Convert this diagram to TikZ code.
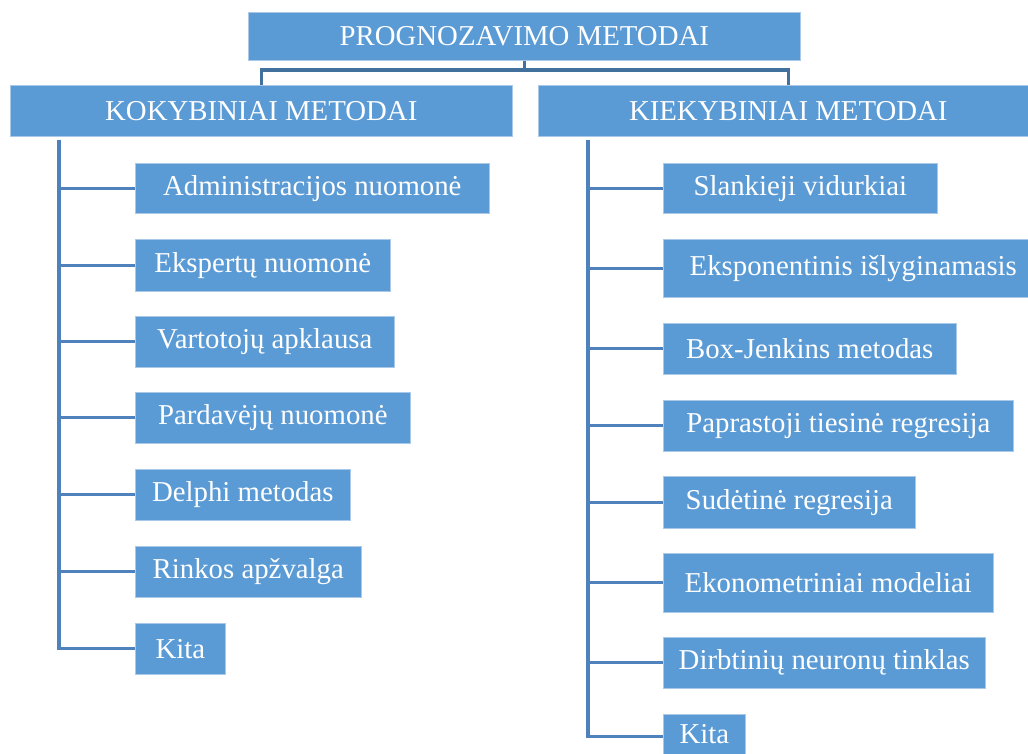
\documentclass[tikz,border=0pt]{standalone}
\usepackage{fontspec}
\setmainfont{Liberation Serif}
\definecolor{boxblue}{RGB}{91,155,213}
\definecolor{boxedge}{RGB}{170,200,232}
\definecolor{linkblue}{RGB}{79,129,189}
\definecolor{toplink}{RGB}{65,113,156}
\begin{document}
\begin{tikzpicture}[x=1pt,y=1pt,
  box/.style={rectangle, fill=boxblue, draw=boxedge, line width=0.6pt, inner sep=0pt,
    anchor=north west, text=white, font=\fontsize{28.8}{32}\selectfont, align=center},
  link/.style={draw=linkblue, line width=3.2pt},
  tlink/.style={draw=toplink, line width=3.2pt}]
\useasboundingbox (0,0) rectangle (1028,-753);
% headers
\node[box, minimum width=552, minimum height=48] (top) at (248,-12) {PROGNOZAVIMO METODAI};
\node[box, minimum width=502, minimum height=51] (kok) at (10,-85) {KOKYBINIAI METODAI};
\node[box, minimum width=500, minimum height=51] (kiek) at (538,-85) {KIEKYBINIAI METODAI};
% left children
\node[box, minimum width=354, minimum height=50] (k1) at (135,-163) {Administracijos nuomonė};
\node[box, minimum width=255, minimum height=52] (k2) at (135,-239) {Ekspertų nuomonė};
\node[box, minimum width=259, minimum height=51] (k3) at (135,-316) {Vartotojų apklausa};
\node[box, minimum width=275, minimum height=51] (k4) at (135,-392) {Pardavėjų nuomonė};
\node[box, minimum width=215, minimum height=51] (k5) at (135,-469) {Delphi metodas};
\node[box, minimum width=226, minimum height=51] (k6) at (135,-546) {Rinkos apžvalga};
\node[box, minimum width=90, minimum height=51] (k7) at (135,-623) {Kita};
% right children
\node[box, minimum width=274, minimum height=50] (r1) at (663,-163) {Slankieji vidurkiai};
\node[box, minimum width=380, minimum height=58] (r2) at (663,-239) {Eksponentinis išlyginamasis};
\node[box, minimum width=293, minimum height=51] (r3) at (663,-323) {Box-Jenkins metodas};
\node[box, minimum width=350, minimum height=51] (r4) at (663,-400) {Paprastoji tiesinė regresija};
\node[box, minimum width=252, minimum height=52] (r5) at (663,-476) {Sudėtinė regresija};
\node[box, minimum width=330, minimum height=59] (r6) at (663,-553) {Ekonometriniai modeliai};
\node[box, minimum width=322, minimum height=51] (r7) at (663,-637) {Dirbtinių neuronų tinklas};
\node[box, minimum width=82, minimum height=40] (r8) at (663,-714) {Kita};
% top connector
\coordinate (bar) at ([yshift=-10]top.south);
\draw[tlink] (top.south) -- (bar);
\draw[tlink] (kok.north) -- ++(0,15) -| (kiek.north);
% trunks
\coordinate (kt) at ([xshift=49, yshift=-3]kok.south west);
\coordinate (rt) at ([xshift=50, yshift=-3]kiek.south west);
\draw[link] (kt) |- (k7.west);
\draw[link] (rt) |- ([yshift=-2]r8.west);
\foreach \n in {k1,k2,k3,k4,k5,k6}{\draw[link] (\n.west) -- (\n.west -| kt);}
\foreach \n in {r1,r2,r3,r4,r5,r6,r7}{\draw[link] (\n.west) -- (\n.west -| rt);}
\end{tikzpicture}
\end{document}
